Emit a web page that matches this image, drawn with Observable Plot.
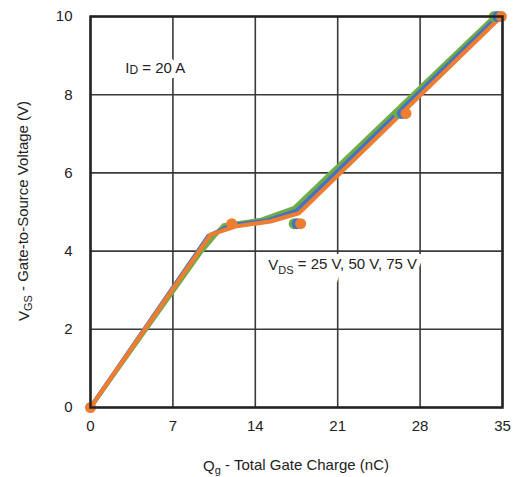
<!DOCTYPE html>
<html><head><meta charset="utf-8">
<script src="https://cdn.jsdelivr.net/npm/d3@7"></script>
<script src="https://cdn.jsdelivr.net/npm/@observablehq/plot@0.6"></script>
<style>
body{margin:0;background:#fff}
#chart svg{font-family:"Liberation Sans",Arial,sans-serif;background:#fff}
</style>
</head><body><div id="chart"></div>
<script>
// Tick values
const xTicks = [0, 7, 14, 21, 28, 35];
const yTicks = [0, 2, 4, 6, 8, 10];

// Curves (Qg in nC, VGS in V)
const q25 = [0, 9.4, 11.3, 14.5, 17.3, 34.3];
const v25 = [0, 3.98, 4.66, 4.8, 5.1, 10];
const q50 = [0, 10.0, 11.9, 15.0, 17.5, 34.6];
const v50 = [0, 4.38, 4.66, 4.78, 5.03, 10];
const q75 = [0, 10.2, 12.3, 15.3, 17.7, 34.9];
const v75 = [0, 4.42, 4.63, 4.76, 4.97, 10];

// Marker points
const dq25 = [17.3, 26.2, 34.3];
const dv25 = [4.7, 7.52, 10];
const dq50 = [17.55, 26.5, 34.6];
const dv50 = [4.7, 7.52, 10];
const dq75 = [0, 12.0, 17.85, 26.8, 34.9];
const dv75 = [0, 4.7, 4.7, 7.52, 10];

const seriesNames = ["25 V", "50 V", "75 V"];
const seriesColors = ["#70ad47", "#4472c4", "#ed7d31"];

// Annotations
const noteText = ["ID = 20 A", "VDS = 25 V, 50 V, 75 V"];
const noteX = [2.95, 15.1];
const noteY = [8.68, 3.63];

const curves = [[q25, v25], [q50, v50], [q75, v75]];
const dots = [[dq25, dv25], [dq50, dv50], [dq75, dv75]];
const lineData = curves.flatMap(([q, v], i) => q.map((x, j) => ({x, y: v[j], s: seriesNames[i]})));
const dotData = dots.flatMap(([q, v], i) => q.map((x, j) => ({x, y: v[j], s: seriesNames[i]})));
const notes = noteText.map((t, i) => ({t, x: noteX[i], y: noteY[i]}));

const chart = Plot.plot({
  width: 513, height: 477,
  marginLeft: 90, marginRight: 11, marginTop: 16, marginBottom: 70,
  style: {fontSize: "15px", color: "#222", background: "#fff"},
  x: {domain: [0, 35]},
  y: {domain: [0, 10]},
  color: {domain: seriesNames, range: seriesColors},
  marks: [
    Plot.gridX(xTicks, {stroke: "#3a3a3a", strokeOpacity: 1, strokeWidth: 1.6}),
    Plot.gridY(yTicks, {stroke: "#3a3a3a", strokeOpacity: 1, strokeWidth: 1.6}),
    // white backing for annotations
    Plot.text(notes, {x: "x", y: "y", text: "t", textAnchor: "start", fontSize: 15, fill: "white",
      stroke: "white", strokeWidth: 10, strokeLinejoin: "miter"}),
    Plot.text(notes, {x: "x", y: "y", text: "t", textAnchor: "start", fontSize: 15, fill: "#222"}),
    Plot.line(lineData, {x: "x", y: "y", z: "s", stroke: "s", strokeWidth: 4.2, strokeLinejoin: "round"}),
    Plot.dot(dotData, {x: "x", y: "y", fill: "s", r: 5.5}),
    Plot.frame({stroke: "#222", strokeWidth: 2.5}),
    Plot.axisX(xTicks, {tickSize: 0, tickPadding: 13, label: null, fontSize: 15}),
    Plot.axisY(yTicks, {tickSize: 0, tickPadding: 18, label: null, fontSize: 15})
  ]
});
document.getElementById("chart").append(chart);

const svg = d3.select(chart);
// Subscripts in annotations
svg.selectAll("text").filter(function(){ return this.textContent === "ID = 20 A"; })
  .each(function(){
    const t = d3.select(this); t.text(null);
    t.append("tspan").text("I");
    t.append("tspan").attr("font-size", "12px").attr("dy", "0.08em").text("D");
    t.append("tspan").attr("dy", "-0.08em").text(" = 20 A");
  });
svg.selectAll("text").filter(function(){ return this.textContent === "VDS = 25 V, 50 V, 75 V"; })
  .each(function(){
    const t = d3.select(this); t.text(null);
    t.append("tspan").text("V");
    t.append("tspan").attr("font-size", "11px").attr("dy", "0.3em").text("DS");
    t.append("tspan").attr("dy", "-0.3em").text(" = 25 V, 50 V, 75 V");
  });

// Axis titles
const xt = svg.append("text").attr("x", 296).attr("y", 467).attr("text-anchor", "middle")
  .attr("font-size", "15px").attr("fill", "#222").attr("dominant-baseline", "middle");
xt.append("tspan").text("Q");
xt.append("tspan").attr("font-size", "11px").attr("dy", "0.35em").text("g");
xt.append("tspan").attr("dy", "-0.35em").text(" - Total Gate Charge (nC)");

const yt = svg.append("text").attr("transform", "translate(25,211) rotate(-90)").attr("text-anchor", "middle")
  .attr("font-size", "15px").attr("fill", "#222").attr("dominant-baseline", "middle");
yt.append("tspan").text("V");
yt.append("tspan").attr("font-size", "11px").attr("dy", "0.35em").text("GS");
yt.append("tspan").attr("dy", "-0.35em").text(" - Gate-to-Source Voltage (V)");
</script>
</body></html>
